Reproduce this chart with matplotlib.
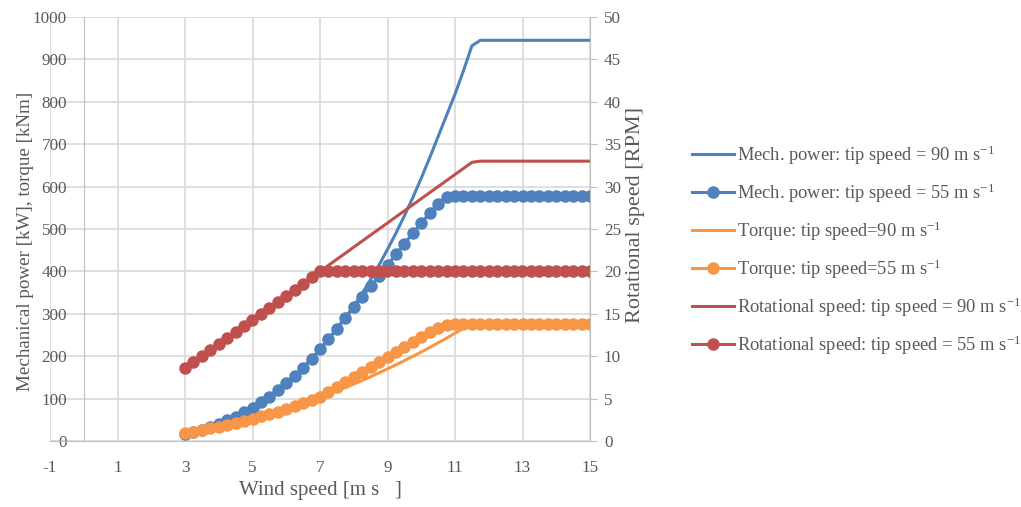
import matplotlib
matplotlib.use('Agg')
import matplotlib.pyplot as plt
import numpy as np

plt.rcParams['font.family'] = ['Liberation Serif', 'DejaVu Serif']
plt.rcParams['mathtext.fontset'] = 'custom'
plt.rcParams['mathtext.rm'] = 'Liberation Serif'
plt.rcParams['mathtext.default'] = 'regular'
plt.rcParams['axes.unicode_minus'] = False

# wind speed, 3 to 15 m/s in steps of 0.25
wind = np.arange(3, 15.01, 0.25)

power_90 = [17, 21.6, 27, 33.2, 40.3, 48.4, 57.4, 67.5, 78.8, 91.2, 104.8, 119.8,
            136.1, 153.8, 173, 193.7, 216, 240, 265, 291, 318, 348, 381, 415,
            452, 490, 531, 574, 620, 668, 718, 768, 818, 873, 932, 945, 945, 945,
            945, 945, 945, 945, 945, 945, 945, 945, 945, 945, 945]
power_55 = [17, 21.6, 27, 33.2, 40.3, 48.4, 57.4, 67.5, 78.8, 91.2, 104.8, 119.8,
            136.1, 153.8, 173, 193.7, 216, 240, 265, 290, 315, 340, 365, 390,
            415, 440, 465, 490, 514, 538, 560, 576, 578, 578, 578, 578, 578, 578,
            578, 578, 578, 578, 578, 578, 578, 578, 578, 578, 578]
torque_90 = [18.9, 22.2, 25.7, 29.5, 33.6, 37.9, 42.5, 47.4, 52.5, 57.9, 63.5, 69.4,
             75.6, 82.0, 88.7, 95.7, 103.1, 110.4, 118.1, 126.1, 134.4, 142.9, 151.7,
             160.8, 170.1, 179.7, 189.5, 199.6, 210.0, 220.6, 231.5, 242.7, 254.1,
             265.8, 274, 274, 274, 274, 274, 274, 274, 274, 274, 274, 274, 274, 274,
             274, 274]
torque_55 = [18.9, 22.2, 25.7, 29.5, 33.6, 37.9, 42.5, 47.4, 52.5, 57.9, 63.5, 69.4,
             75.6, 82.0, 88.7, 95.7, 103.1, 114.6, 126.6, 138.5, 150.4, 162.4, 174.3,
             186.2, 198.2, 210.1, 222.1, 234.0, 245.5, 256.9, 267.4, 274.5, 275.5,
             275.5, 275.5, 275.5, 275.5, 275.5, 275.5, 275.5, 275.5, 275.5, 275.5,
             275.5, 275.5, 275.5, 275.5, 275.5, 275.5]
rpm_90 = [8.57, 9.29, 10.0, 10.71, 11.43, 12.14, 12.86, 13.57, 14.29, 15.0, 15.71,
          16.43, 17.14, 17.86, 18.57, 19.29, 20.0, 20.71, 21.43, 22.14, 22.86, 23.57,
          24.29, 25.0, 25.71, 26.43, 27.14, 27.86, 28.57, 29.29, 30.0, 30.71, 31.43,
          32.14, 32.86, 33, 33, 33, 33, 33, 33, 33, 33, 33, 33, 33, 33, 33, 33]
rpm_55 = [8.57, 9.29, 10.0, 10.71, 11.43, 12.14, 12.86, 13.57, 14.29, 15.0, 15.71,
          16.43, 17.14, 17.86, 18.57, 19.29, 20, 20, 20, 20, 20, 20, 20, 20, 20, 20,
          20, 20, 20, 20, 20, 20, 20, 20, 20, 20, 20, 20, 20, 20, 20, 20, 20, 20, 20,
          20, 20, 20, 20]

labels = ['Mech. power: tip speed = 90 m s$^{-1}$',
          'Mech. power: tip speed = 55 m s$^{-1}$',
          'Torque: tip speed=90 m s$^{-1}$',
          'Torque: tip speed=55 m s$^{-1}$',
          'Rotational speed: tip speed = 90 m s$^{-1}$',
          'Rotational speed: tip speed = 55 m s$^{-1}$']

blue = '#4F81BD'
orange = '#F79646'
red = '#C0504D'
txt = '#595959'
grid = '#d9d9d9'
axcol = '#bfbfbf'

fig = plt.figure(figsize=(10.21, 5.07), dpi=100)
ax = fig.add_axes([50 / 1021, 66 / 507, 540 / 1021, 424 / 507])
ax2 = ax.twinx()

lw = 2.2
ms = 8
h1, = ax.plot(wind, power_90, color=blue, lw=lw, label=labels[0])
h2, = ax.plot(wind, power_55, color=blue, lw=lw, marker='o', ms=ms, label=labels[1])
h3, = ax.plot(wind, torque_90, color=orange, lw=lw, label=labels[2])
h4, = ax.plot(wind, torque_55, color=orange, lw=lw, marker='o', ms=ms, label=labels[3])
h5, = ax2.plot(wind, rpm_90, color=red, lw=lw, label=labels[4])
h6, = ax2.plot(wind, rpm_55, color=red, lw=lw, marker='o', ms=ms, label=labels[5])

# primary axis: y axis crosses at x = 0
ax.set_xlim(-1, 15)
ax.set_ylim(0, 1000)
ax.set_xticks(np.arange(-1, 16, 2))
ax.set_yticks(np.arange(0, 1001, 100))
ax.grid(True, color=grid, lw=1.2)
ax.set_axisbelow(True)
ax.spines['left'].set_position(('data', 0))
ax.spines['left'].set_color(axcol)
ax.spines['bottom'].set_color(axcol)
ax.spines['top'].set_visible(False)
ax.spines['right'].set_visible(False)
ax.tick_params(axis='x', length=0, pad=14, labelsize=12.3, labelcolor=txt)
ax.tick_params(axis='y', length=0, pad=12, labelsize=12.3, labelcolor=txt)
ax.set_xlabel('Wind speed [m s   ]', fontsize=15, color=txt, labelpad=3)
ax.set_ylabel('Mechanical power [kW], torque [kNm]', fontsize=13.7, color=txt)
ax.yaxis.set_label_coords(-0.03, 0.47)

# secondary axis for rotational speed
ax2.set_ylim(0, 50)
ax2.set_yticks(np.arange(0, 51, 5))
ax2.spines['right'].set_color(axcol)
ax2.spines['left'].set_visible(False)
ax2.spines['top'].set_visible(False)
ax2.spines['bottom'].set_visible(False)
ax2.tick_params(axis='y', length=5, color=axcol, pad=5, labelsize=12.3, labelcolor=txt)
ax2.set_ylabel('Rotational speed [RPM]', fontsize=16, color=txt)
ax2.yaxis.set_label_coords(1.066, 0.533)

leg = fig.legend(handles=[h1, h2, h3, h4, h5, h6], loc='center left',
                 bbox_to_anchor=(675 / 1021, 0.507), frameon=False, fontsize=13.35,
                 labelspacing=0.79, handlelength=2.27, handletextpad=0.16)
for t in leg.get_texts():
    t.set_color(txt)

plt.savefig('out.png', dpi=100)
plt.close()
